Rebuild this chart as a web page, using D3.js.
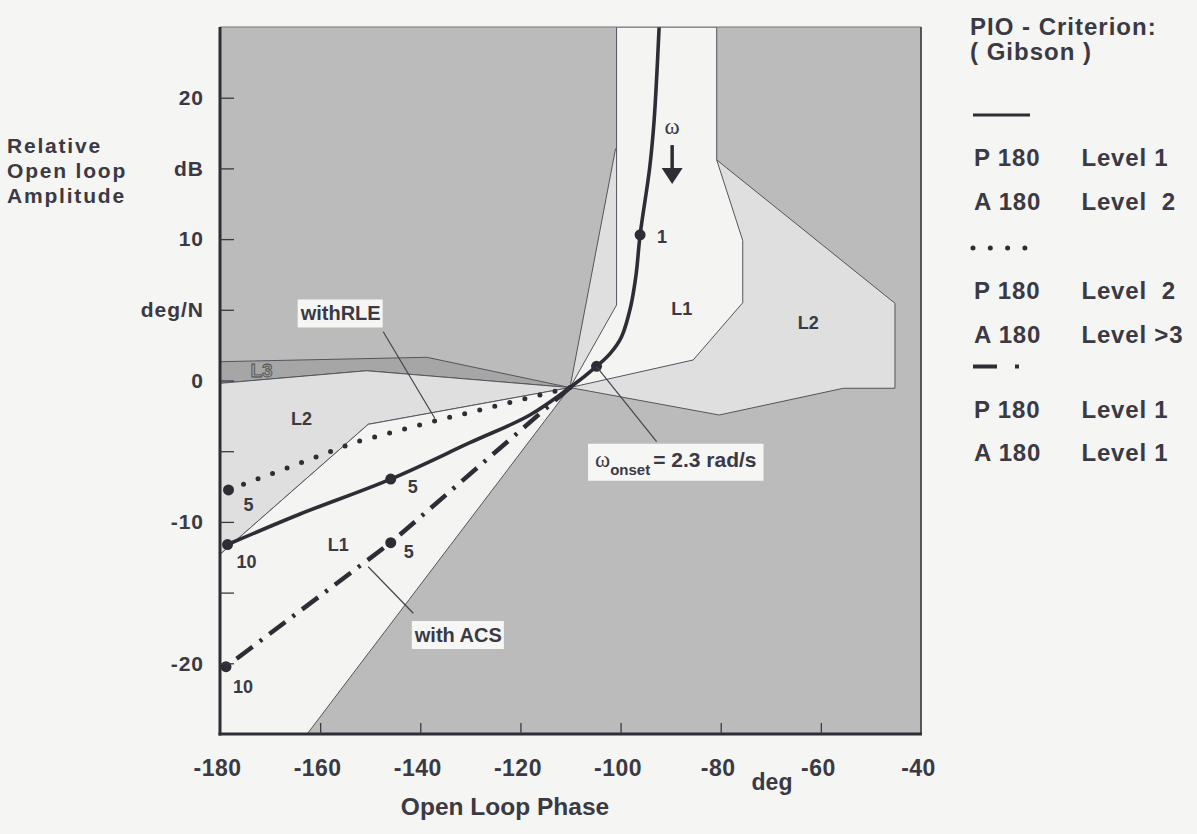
<!DOCTYPE html>
<html><head><meta charset="utf-8">
<script src="https://cdn.jsdelivr.net/npm/d3@7"></script>
<style>
body{margin:0;background:#f5f5f3;}
svg text{font-family:"Liberation Sans",Arial,Helvetica,sans-serif;font-weight:bold;fill:#3a3944;}
</style></head><body>
<svg id="c" width="1197" height="834"></svg>
<script>
// ---------- data ----------
const xTicks = [-180,-160,-140,-120,-100,-80,-60,-40];
const xTickLabels = ["-180","-160","-140","-120","-100","-80","-60","-40"];
const yTicks = [20,15,10,5,0,-5,-10,-15,-20];
const yTickLabels = ["20","dB","10","deg/N","0","","-10","","-20"];

// boundary regions [phase deg, amplitude]
const regionL2Right = [[-110.1,-0.5],[-101.0,16.4],[-80.8,15.6],[-45.2,5.46],[-45.2,-0.55],[-55.5,-0.55],[-80.3,-2.44]];
const regionL1Upper = [[-100.8,25],[-80.8,25],[-80.8,15.6],[-75.6,9.9],[-75.6,5.5],[-85.5,1.45],[-110.1,-0.5],[-100.8,5.34]];
const regionL3 = [[-180,1.33],[-138.7,1.64],[-110.1,-0.5],[-150.7,0.69],[-180,-0.2]];
const regionL2Left = [[-180,-0.2],[-150.7,0.69],[-110.1,-0.5],[-150.4,-3.1],[-180,-12.3]];
const regionL1Left = [[-110.1,-0.5],[-150.4,-3.1],[-180,-12.3],[-180,-25],[-162.6,-25]];

// open loop responses
const baseCurve = [[-92.3,25],[-93.3,18.4],[-94.2,15],[-96.1,10.3],[-96.9,7.5],[-98.0,5.2],[-99.8,3.1],[-102.1,1.9],[-104.8,1.0],[-110.1,-0.5],[-118.1,-2.44],[-130.1,-4.4],[-145.9,-6.97],[-164,-9.44],[-178.5,-11.6]];
const rleCurve = [[-110.1,-0.5],[-124.1,-1.73],[-138.4,-2.98],[-152.7,-4.33],[-167.7,-6.33],[-178.3,-7.74]];
const acsCurve = [[-110.1,-0.5],[-145.9,-11.47],[-178.8,-20.24]];

// frequency markers [phase, amp, label, dx, dy]
const baseMarkers = [[-96.1,10.3,"1",22,2],[-104.8,1.0,"",0,0],[-145.9,-6.97,"5",22,8],[-178.5,-11.6,"10",19,17]];
const rleMarkers = [[-178.3,-7.74,"5",20,15]];
const acsMarkers = [[-145.9,-11.47,"5",18,9],[-178.8,-20.24,"10",17,20]];

const regionLabels = [["L1",-87.8,5.1],["L2",-62.5,4.1],["L2",-163.7,-2.67],["L1",-156.4,-11.6]];
const l3Label = ["L3",-171.7,0.74];

// legend
const legendTitle = ["PIO - Criterion:","( Gibson )"];
const legendGroups = [
  {style:"solid", rows:[["P 180","Level 1"],["A 180","Level  2"]]},
  {style:"dot", rows:[["P 180","Level  2"],["A 180","Level >3"]]},
  {style:"dashdot", rows:[["P 180","Level 1"],["A 180","Level 1"]]}
];

// ---------- drawing ----------
const svg = d3.select("#c");
const L=220, R=921, T=27, B=734;
const x = d3.scaleLinear().domain([-180,-40]).range([L,R]);
const y = d3.scaleLinear().domain([-25,25]).range([B,T]);
const ink = "#2e2d36";

const clip = svg.append("defs").append("clipPath").attr("id","pc");
clip.append("rect").attr("x",L).attr("y",T).attr("width",R-L).attr("height",B-T);

const plot = svg.append("g").attr("clip-path","url(#pc)");
plot.append("rect").attr("x",L).attr("y",T).attr("width",R-L).attr("height",B-T).attr("fill","#bbbbbb");

const poly = d3.line().x(d=>x(d[0])).y(d=>y(d[1]));
function region(pts, fill){
  plot.append("path").attr("d", poly(pts)+"Z").attr("fill",fill)
    .attr("stroke","#55545c").attr("stroke-width",1).attr("stroke-linejoin","round");
}
region(regionL2Right, "#dfdfdf");
region(regionL1Upper, "#f4f4f3");
region(regionL3, "#a6a6a6");
region(regionL2Left, "#dfdfdf");
region(regionL1Left, "#f4f4f3");

// region labels
regionLabels.forEach(d=>{
  plot.append("text").attr("x",x(d[1])).attr("y",y(d[2])).attr("dy","0.35em")
    .attr("text-anchor","middle").style("font-size","18px").text(d[0]);
});
plot.append("text").attr("x",x(l3Label[1])).attr("y",y(l3Label[2])).attr("dy","0.35em")
  .attr("text-anchor","middle").style("font-size","19px").style("fill","#9c9c9c")
  .attr("stroke","#4a4a4a").attr("stroke-width",0.8).text(l3Label[0]);

// curves
const smooth = d3.line().x(d=>x(d[0])).y(d=>y(d[1])).curve(d3.curveCatmullRom.alpha(0.5));
plot.append("path").attr("d",poly(rleCurve)).attr("fill","none").attr("stroke",ink)
  .attr("stroke-width",5).attr("stroke-linecap","round").attr("stroke-dasharray","0,15.5");
plot.append("path").attr("d",poly(acsCurve)).attr("fill","none").attr("stroke",ink)
  .attr("stroke-width",4.5).attr("stroke-dasharray","20,9,3,9");
plot.append("path").attr("d",smooth(baseCurve)).attr("fill","none").attr("stroke",ink)
  .attr("stroke-width",3.6).attr("stroke-linejoin","round");

function markers(arr){
  arr.forEach(d=>{
    plot.append("circle").attr("cx",x(d[0])).attr("cy",y(d[1])).attr("r",5.5).attr("fill",ink);
    if(d[2]) plot.append("text").attr("x",x(d[0])+d[3]).attr("y",y(d[1])+d[4]).attr("dy","0.35em")
      .attr("text-anchor","middle").style("font-size","18px").text(d[2]);
  });
}
markers(baseMarkers); markers(rleMarkers); markers(acsMarkers);

// omega arrow
const omega = [-89.7, 17.9, 16.65, 13.9];
plot.append("text").attr("x",x(omega[0])).attr("y",y(omega[1])).attr("dy","0.3em").attr("text-anchor","middle")
  .style("font-family","'Liberation Serif','DejaVu Serif',serif").style("font-weight","normal").style("font-size","23px").text("ω");
plot.append("line").attr("x1",x(omega[0])).attr("x2",x(omega[0])).attr("y1",y(omega[2])).attr("y2",y(omega[3])-12)
  .attr("stroke",ink).attr("stroke-width",3.5);
const ax=x(omega[0]), ay=y(omega[3]);
plot.append("path").attr("d",`M${ax-10.5},${ay-16}L${ax+10.5},${ay-16}L${ax},${ay}Z`).attr("fill",ink);

// leader lines + boxed annotations
const leaders = [[[-147.4,3.45],[-137.1,-2.67]],[[-141.4,-16.46],[-150.4,-13.17]],[[-92.8,-4.33],[-104.8,0.98]]];
leaders.forEach(l=>{
  plot.append("line").attr("x1",x(l[0][0])).attr("y1",y(l[0][1])).attr("x2",x(l[1][0])).attr("y2",y(l[1][1]))
    .attr("stroke","#45444c").attr("stroke-width",1.2);
});
function boxed(g, padX, padY){
  const bb = g.node().getBBox();
  g.insert("rect","text").attr("x",bb.x-padX).attr("y",bb.y-padY).attr("width",bb.width+2*padX)
    .attr("height",bb.height+2*padY).attr("fill","#f6f6f5");
}
const annRLE = ["withRLE",-155.9,4.74];
const annACS = ["with ACS",-132.4,-18.0];
[annRLE,annACS].forEach(a=>{
  const g = plot.append("g");
  g.append("text").attr("x",x(a[1])).attr("y",y(a[2])).attr("dy","0.35em").attr("text-anchor","middle")
    .style("font-size","20px").text(a[0]);
  boxed(g,2,3);
});
const annOnset = [-105.1,-6.1];
{
  const g = plot.append("g");
  const t = g.append("text").attr("x",x(annOnset[0])).attr("y",y(annOnset[1]));
  t.append("tspan").style("font-family","'Liberation Serif','DejaVu Serif',serif").style("font-weight","normal")
    .style("font-size","23px").text("ω");
  t.append("tspan").attr("dy",8).style("font-size","15px").text("onset");
  t.append("tspan").attr("dy",-8).attr("dx",3).style("font-size","21px").text("= 2.3 rad/s");
  boxed(g,7,3);
}

// frame
svg.append("line").attr("x1",L).attr("x2",R).attr("y1",T).attr("y2",T).attr("stroke","#77767c").attr("stroke-width",1.2);
svg.append("line").attr("x1",R).attr("x2",R).attr("y1",T).attr("y2",B).attr("stroke","#4a4950").attr("stroke-width",1.8);
svg.append("line").attr("x1",L).attr("x2",L).attr("y1",T).attr("y2",B+1.5).attr("stroke",ink).attr("stroke-width",3);
svg.append("line").attr("x1",L-1.5).attr("x2",R+1).attr("y1",B).attr("y2",B).attr("stroke",ink).attr("stroke-width",3);

// axes
const xa = svg.append("g").attr("transform",`translate(0,${B})`)
  .call(d3.axisBottom(x).tickValues(xTicks).tickSize(-11).tickPadding(26).tickFormat((d,i)=>xTickLabels[i]));
xa.select(".domain").remove();
xa.selectAll(".tick line").attr("stroke","#3a3944").attr("stroke-width",1.3)
  .filter(d=>d===-180||d===-40).remove();
xa.selectAll(".tick text").style("font-size","23px").style("letter-spacing","0.5px").attr("dx","-3").attr("fill",null);

const ya = svg.append("g").attr("transform",`translate(${L},0)`)
  .call(d3.axisLeft(y).tickValues(yTicks).tickSize(-14).tickPadding(16).tickFormat((d,i)=>yTickLabels[i]));
ya.select(".domain").remove();
ya.selectAll(".tick line").attr("stroke","#3a3944").attr("stroke-width",1.3);
ya.selectAll(".tick text").style("font-size","21px").style("letter-spacing","1px").attr("fill",null);

// axis titles
svg.append("text").attr("x",505).attr("y",815).attr("text-anchor","middle").style("font-size","24.5px").text("Open Loop Phase");
svg.append("text").attr("x",772).attr("y",790).attr("text-anchor","middle").style("font-size","23px").text("deg");
["Relative","Open loop","Amplitude"].forEach((s,i)=>{
  svg.append("text").attr("x",7).attr("y",152.7+i*25.3).style("font-size","21px").style("letter-spacing","1.8px").text(s);
});

// legend
const lg = svg.append("g");
lg.append("text").attr("x",970).attr("y",35).style("font-size","24px").style("letter-spacing","1px").text(legendTitle[0]);
lg.append("text").attr("x",970).attr("y",59.5).style("font-size","24px").style("letter-spacing","1px").text(legendTitle[1]);
let ly = 115;
legendGroups.forEach((g,gi)=>{
  const sample = lg.append("line").attr("x1",973).attr("y1",ly).attr("y2",ly).attr("stroke",ink);
  if(g.style==="solid") sample.attr("x2",1030).attr("stroke-width",3);
  if(g.style==="dot") sample.attr("x2",1026).attr("stroke-width",5).attr("stroke-linecap","round").attr("stroke-dasharray","0,17.3");
  if(g.style==="dashdot") sample.attr("x2",1020).attr("stroke-width",3.8).attr("stroke-dasharray","24,18,4,40");
  g.rows.forEach((r,ri)=>{
    const by = ly + 51 + ri*43.5;
    lg.append("text").attr("x",974).attr("y",by).style("font-size","24px").style("letter-spacing","0.8px").style("white-space","pre").text(r[0]);
    lg.append("text").attr("x",1081.5).attr("y",by).style("font-size","24px").style("letter-spacing","0.8px").style("white-space","pre").text(r[1]);
  });
  ly += gi===0 ? 133 : 118.5;
});
</script></body></html>
